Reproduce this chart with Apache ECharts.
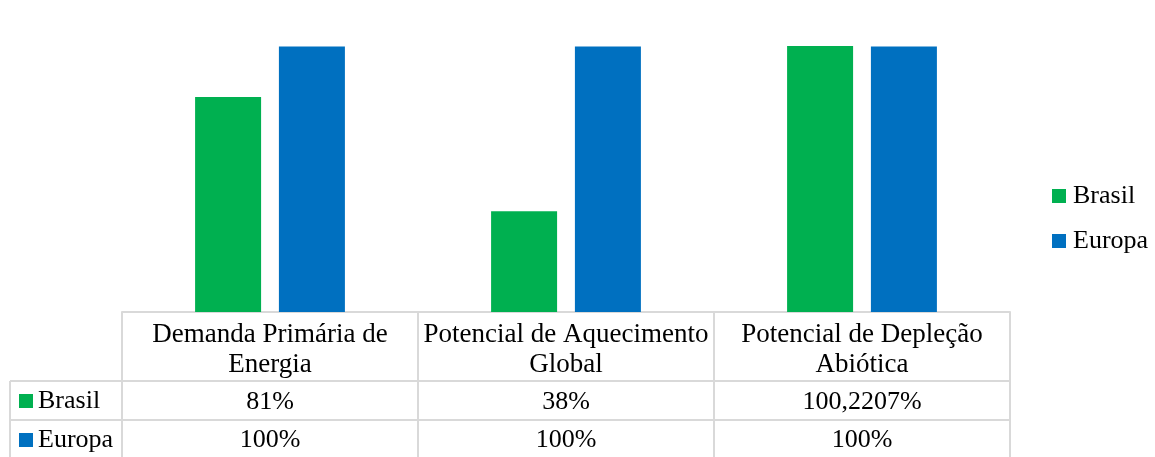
<!DOCTYPE html>
<html>
<head>
<meta charset="utf-8">
<script src="https://cdn.jsdelivr.net/npm/echarts@6/dist/echarts.min.js"></script>
<style>
  html, body { margin: 0; padding: 0; background: #fff; }
  #chart { width: 1155px; height: 457px; }
</style>
</head>
<body>
<div id="chart"></div>
<script>
const categories = ['Demanda Primária de\nEnergia', 'Potencial de Aquecimento\nGlobal', 'Potencial de Depleção\nAbiótica']
const seriesNames = ['Brasil', 'Europa']
const brasil = [81, 38, 100.2207]
const europa = [100, 100, 100]

const font = "'Liberation Serif', 'Times New Roman', serif"
const grey = '#d9d9d9'
const pct = v => String(v).replace('.', ',') + '%'

const chart = echarts.init(document.getElementById('chart'))

const rowAxis = (values, offset) => ({
  type: 'category',
  data: categories,
  position: 'bottom',
  offset: offset,
  axisLine: { show: false },
  axisTick: { show: false },
  axisLabel: {
    margin: 8,
    fontFamily: font,
    fontSize: 26,
    lineHeight: 26,
    color: '#000',
    formatter: (v, i) => pct(values[i])
  }
})

const legendText = { fontFamily: font, fontSize: 26, lineHeight: 26, color: '#000' }
const rowLegend = (name, top) => ({
  left: 19,
  top: top,
  padding: 0,
  itemWidth: 14,
  itemHeight: 14,
  icon: 'rect',
  selectedMode: false,
  textStyle: legendText,
  data: [name]
})

chart.setOption({
  animation: false,
  grid: { left: 122, right: 145, top: 46, bottom: 145 },
  legend: [
    {
      orient: 'vertical',
      left: 1052,
      top: 183,
      padding: 0,
      itemWidth: 14,
      itemHeight: 14,
      itemGap: 19,
      icon: 'rect',
      textStyle: Object.assign({ padding: [0, 0, 0, 2] }, legendText),
      data: seriesNames
    },
    rowLegend(seriesNames[0], 388),
    rowLegend(seriesNames[1], 427)
  ],
  xAxis: [
    {
      type: 'category',
      data: categories,
      axisLine: { lineStyle: { color: grey, width: 2 } },
      axisTick: { show: true, length: 145, lineStyle: { color: grey, width: 2 } },
      axisLabel: {
        margin: 8,
        interval: 0,
        fontFamily: font,
        fontSize: 27,
        lineHeight: 30,
        color: '#000'
      }
    },
    rowAxis(brasil, 69),
    rowAxis(europa, 107)
  ],
  yAxis: { type: 'value', min: 0, max: 'dataMax', show: false, splitLine: { show: false } },
  graphic: [
    { type: 'line', shape: { x1: 10, y1: 381, x2: 1010, y2: 381 }, style: { stroke: grey, lineWidth: 2 } },
    { type: 'line', shape: { x1: 10, y1: 420, x2: 1010, y2: 420 }, style: { stroke: grey, lineWidth: 2 } },
    { type: 'line', shape: { x1: 10, y1: 381, x2: 10, y2: 457 }, style: { stroke: grey, lineWidth: 2 } }
  ],
  series: [
    { name: seriesNames[0], type: 'bar', data: brasil, barWidth: 66, barGap: '27%', itemStyle: { color: '#00b050' } },
    { name: seriesNames[1], type: 'bar', data: europa, barWidth: 66, itemStyle: { color: '#0070c0' } }
  ]
})
</script>
</body>
</html>
